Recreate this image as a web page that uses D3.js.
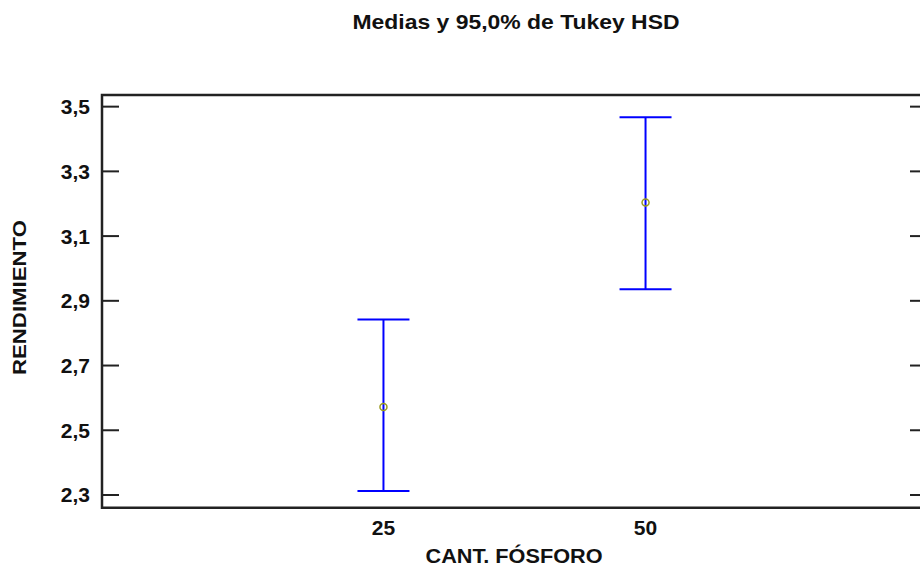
<!DOCTYPE html>
<html>
<head>
<meta charset="utf-8">
<script src="https://cdn.jsdelivr.net/npm/d3@7"></script>
<style>
  body { margin: 0; background: #fff; }
  text { font-family: "Liberation Sans", Arial, sans-serif; font-weight: bold; fill: #111; }
</style>
</head>
<body>
<div id="chart"></div>
<script>
// Tukey HSD means plot
const categories = ["25", "50"];
const means = [2.572, 3.204];
const lower = [2.312, 2.936];
const upper = [2.842, 3.467];
const yTicks = [2.3, 2.5, 2.7, 2.9, 3.1, 3.3, 3.5];

const width = 920, height = 567;
const margin = { top: 95, right: -7, bottom: 60, left: 102 };

const svg = d3.select('#chart')
    .append('svg')
    .attr('width', width)
    .attr('height', height);

const x = d3.scalePoint()
    .domain(categories)
    .range([margin.left, width - margin.right])
    .padding(1.074);

const y = d3.scaleLinear()
    .domain([2.2607, 3.536])
    .range([height - margin.bottom + 0.7, margin.top]);

const fmt = d => d.toFixed(1).replace('.', ',');

// ticks on both sides, pointing inward
const tickLen = 17;
svg.append('g').selectAll('line')
    .data(yTicks).join('line')
    .attr('x1', margin.left).attr('x2', margin.left + tickLen)
    .attr('y1', d => y(d)).attr('y2', d => y(d))
    .attr('stroke', '#222').attr('stroke-width', 2);

svg.append('g').selectAll('line')
    .data(yTicks).join('line')
    .attr('x1', width - margin.right).attr('x2', width - margin.right - tickLen)
    .attr('y1', d => y(d)).attr('y2', d => y(d))
    .attr('stroke', '#222').attr('stroke-width', 2);

svg.append('g').selectAll('text')
    .data(yTicks).join('text')
    .attr('x', 90)
    .attr('y', d => y(d) + 7.5)
    .attr('text-anchor', 'end')
    .style('font-size', '21px')
    .text(fmt);

// frame (right side is off-screen)
const y0 = y.range()[0], y1 = y.range()[1];
svg.append('path')
    .attr('d', `M${width - margin.right},${y1}H${margin.left}V${y0}H${width - margin.right}`)
    .attr('fill', 'none')
    .attr('stroke', '#222')
    .attr('stroke-width', 2.5);

// x tick labels
svg.append('g').selectAll('text')
    .data(categories).join('text')
    .attr('x', d => x(d))
    .attr('y', 535)
    .attr('text-anchor', 'middle')
    .style('font-size', '21px')
    .text(d => d);

// error bars
const capW = 26;
const bars = svg.append('g')
    .attr('stroke', '#0000ff')
    .attr('stroke-width', 2);

categories.forEach((c, i) => {
    bars.append('line')
        .attr('x1', x(c)).attr('x2', x(c))
        .attr('y1', y(lower[i])).attr('y2', y(upper[i]));
    bars.append('line')
        .attr('x1', x(c) - capW).attr('x2', x(c) + capW)
        .attr('y1', y(upper[i])).attr('y2', y(upper[i]));
    bars.append('line')
        .attr('x1', x(c) - capW).attr('x2', x(c) + capW)
        .attr('y1', y(lower[i])).attr('y2', y(lower[i]));
});

// mean markers
svg.append('g').selectAll('circle')
    .data(categories).join('circle')
    .attr('cx', d => x(d))
    .attr('cy', (d, i) => y(means[i]))
    .attr('r', 3.5)
    .attr('fill', 'none')
    .attr('stroke', '#9a9a20')
    .attr('stroke-width', 1.5);

// titles
svg.append('text')
    .attr('x', 516).attr('y', 29)
    .attr('text-anchor', 'middle')
    .attr('textLength', 327)
    .attr('lengthAdjust', 'spacingAndGlyphs')
    .style('font-size', '21px')
    .text('Medias y 95,0% de Tukey HSD');

svg.append('text')
    .attr('x', 514).attr('y', 563)
    .attr('text-anchor', 'middle')
    .attr('textLength', 177)
    .attr('lengthAdjust', 'spacingAndGlyphs')
    .style('font-size', '21px')
    .text('CANT. FÓSFORO');

svg.append('text')
    .attr('transform', 'translate(26,297.5) rotate(-90)')
    .attr('text-anchor', 'middle')
    .attr('textLength', 155)
    .attr('lengthAdjust', 'spacingAndGlyphs')
    .style('font-size', '18px')
    .text('RENDIMIENTO');
</script>
</body>
</html>
